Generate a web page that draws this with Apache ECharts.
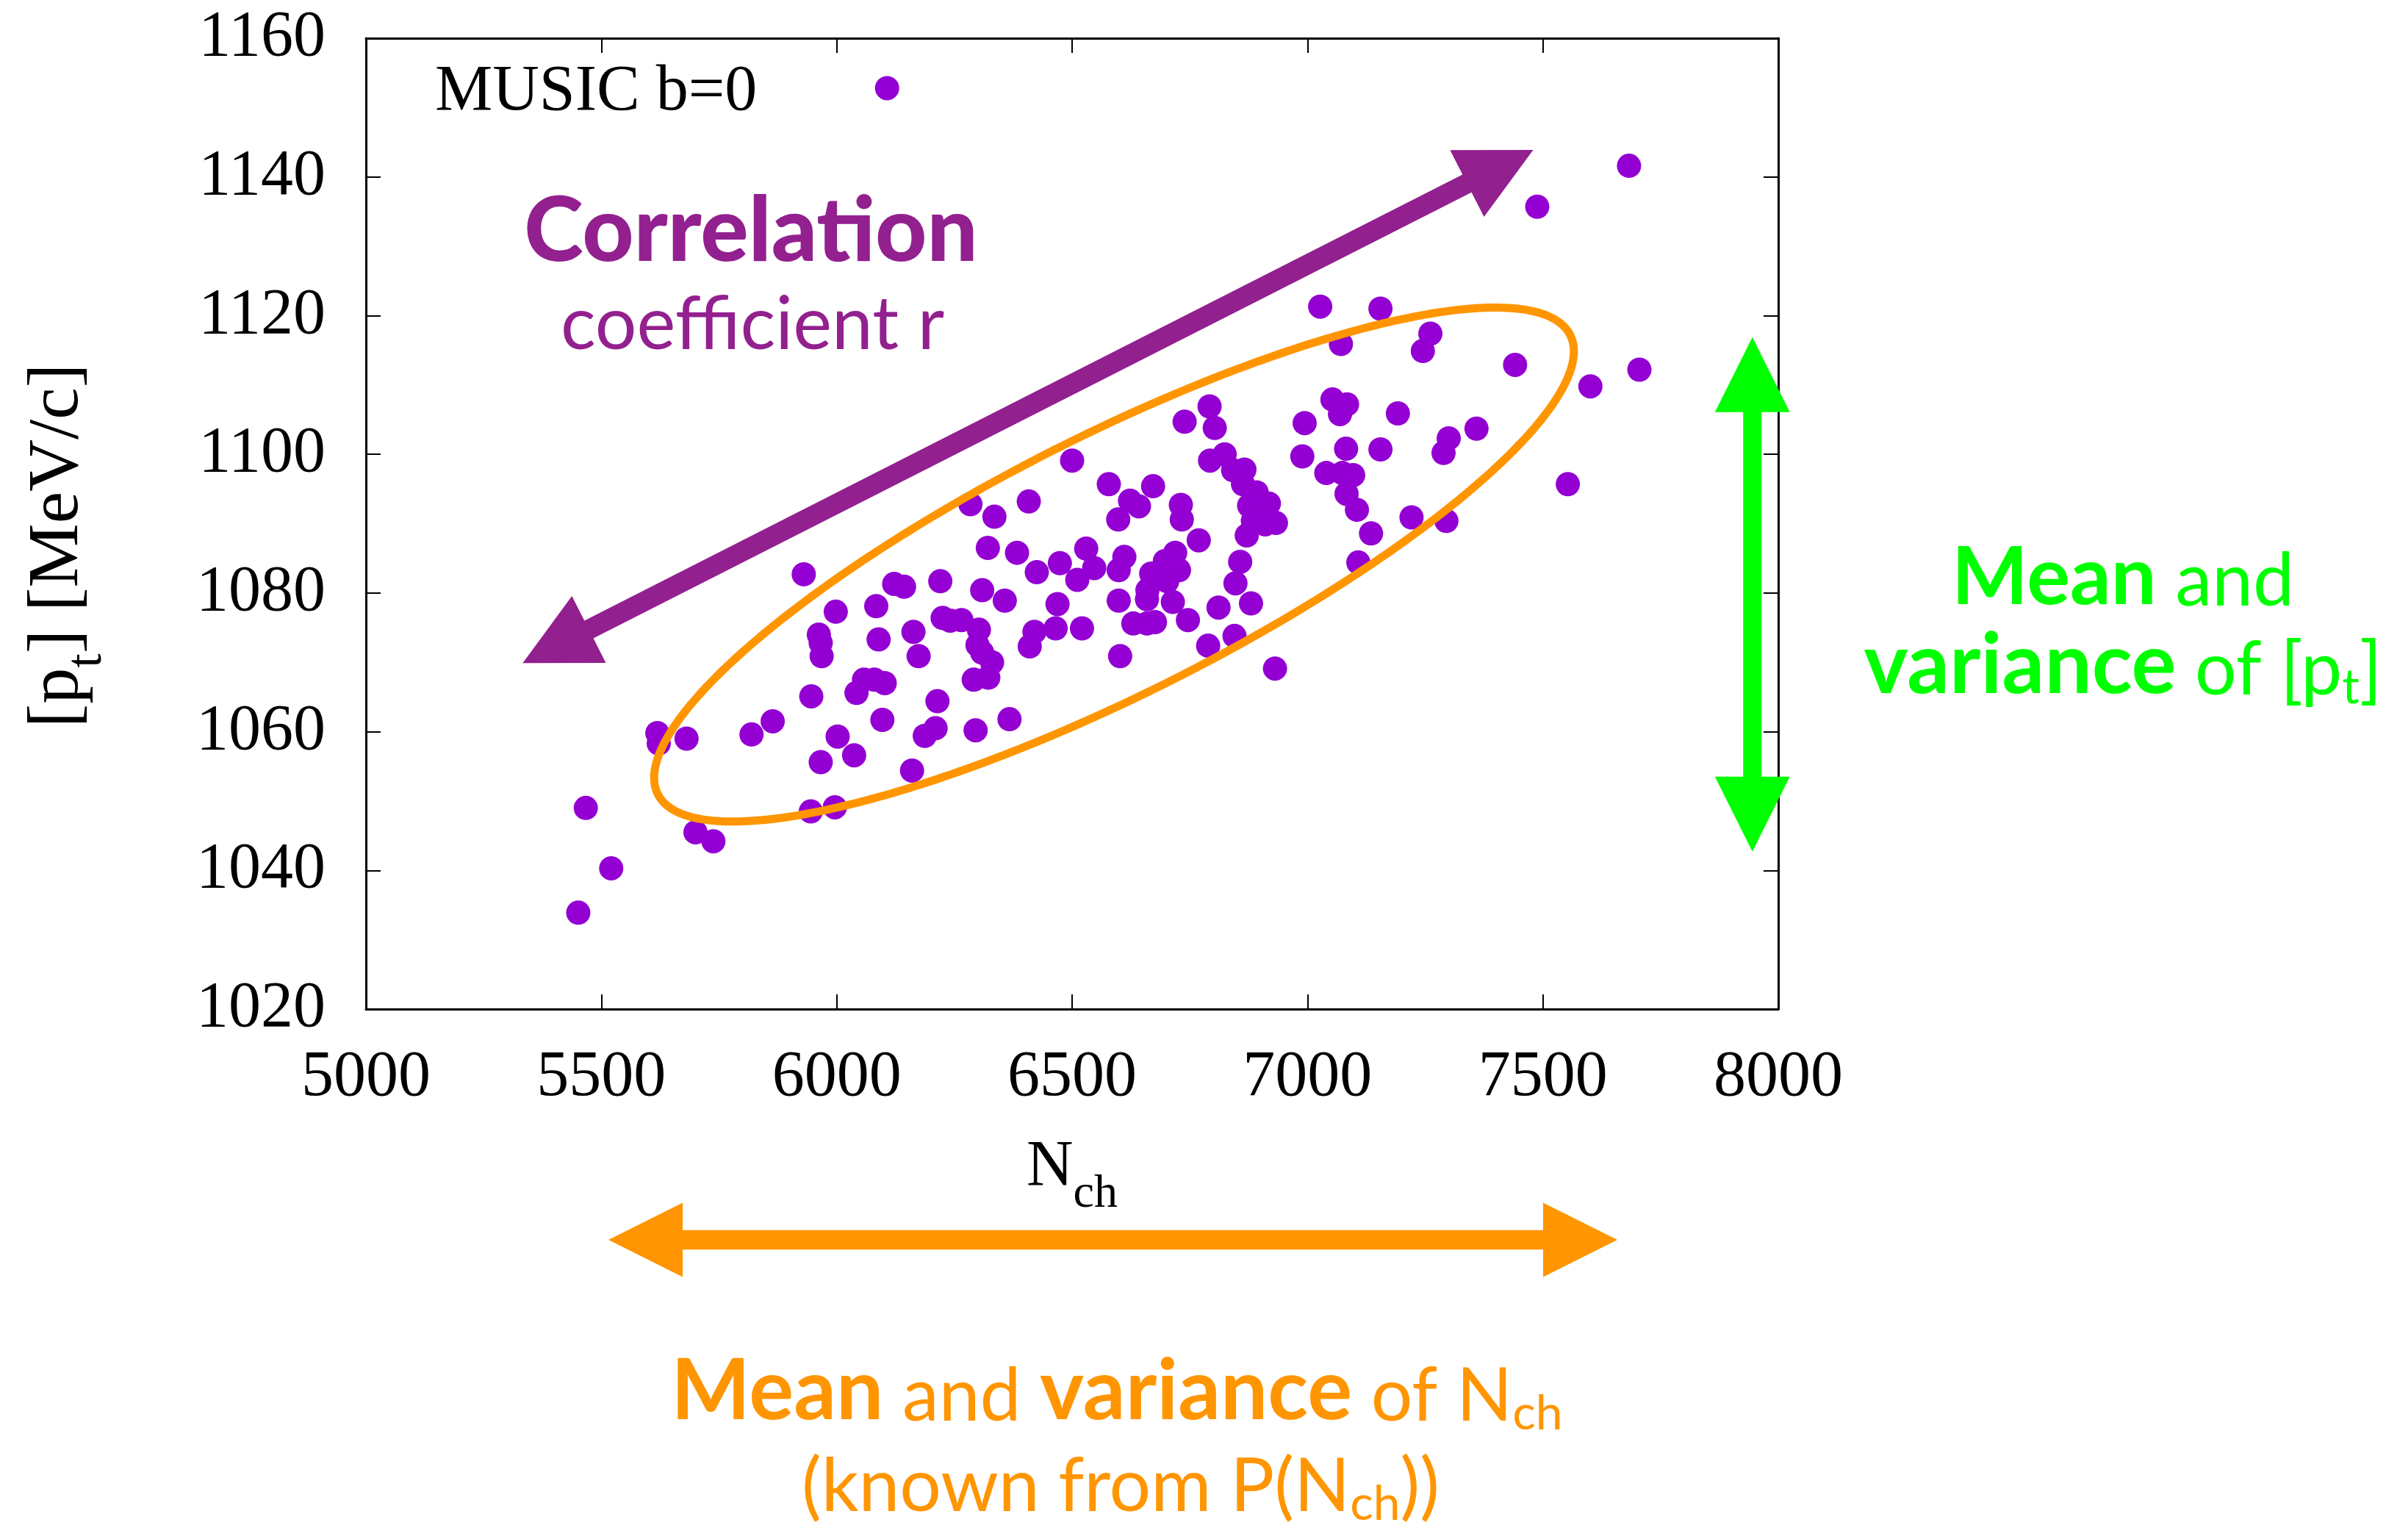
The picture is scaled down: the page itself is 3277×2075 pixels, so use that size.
<!DOCTYPE html>
<html>
<head>
<meta charset="utf-8">
<title>MUSIC b=0 — [pt] vs Nch</title>
<script src="https://cdn.jsdelivr.net/npm/echarts@6/dist/echarts.min.js"></script>
<style>
  html, body { margin: 0; padding: 0; background: #ffffff; }
  #chart { width: 3277px; height: 2075px; }
</style>
</head>
<body>
<div id="chart"></div>
<script>
// Event-by-event charged multiplicity (Nch) and mean transverse momentum [pt] in MeV/c
const nch = [
  6107, 7683, 7488, 7027, 7155, 7071, 7261, 7245, 7441, 7705,
  7601, 7053, 7084, 7069, 7192, 7300, 7359, 7289, 7082, 7155,
  7040, 7074, 7097, 7083, 7105, 7135, 7221, 7295, 7108, 7553,
  6792, 6739, 6803, 6994, 6989, 6793, 6824, 6866, 6842, 6863,
  6892, 6918, 6876, 6884, 6933, 6910, 6871, 6769, 6731, 6733,
  6672, 6578, 6623, 6642, 6598, 6500, 6408, 6284, 6335, 6321,
  6383, 6425, 6474, 6530, 6547, 6511, 6611, 6599, 6719, 6697,
  6727, 6668, 6702, 6660, 6659, 6714, 6857, 6847, 6880, 6811,
  6746, 6630, 6659, 6676, 6845, 6789, 6599, 6469, 6521, 6465,
  6420, 6410, 6309, 6357, 6265, 6302, 6299, 5930, 6122, 6143,
  6220, 5998, 6084, 6225, 6241, 5962, 5966, 6089, 6163, 5968,
  6174, 6058, 6080, 6102, 6042, 5946, 6214, 6097, 6210, 6187,
  6002, 6037, 5966, 6160, 5864, 5819, 5619, 5622, 5681, 5945,
  5996, 5700, 5738, 5521, 5467, 5451, 6291, 6322, 6330, 6309,
  6295, 6367, 6602, 6931
];
const meanPt = [
  1152.8, 1141.6, 1135.7, 1121.3, 1121.0, 1115.9, 1117.4, 1114.9, 1112.9, 1112.2,
  1109.8, 1107.9, 1107.2, 1105.8, 1105.9, 1102.3, 1103.7, 1100.2, 1100.8, 1100.7,
  1097.3, 1097.3, 1097.0, 1094.3, 1092.0, 1088.6, 1090.9, 1090.4, 1084.4, 1095.7,
  1106.9, 1104.7, 1103.8, 1104.5, 1099.7, 1099.1, 1100.0, 1097.8, 1097.7, 1095.7,
  1094.5, 1092.9, 1092.6, 1090.4, 1090.1, 1089.9, 1088.3, 1087.6, 1092.7, 1090.6,
  1095.4, 1095.7, 1093.3, 1092.5, 1090.6, 1099.1, 1093.2, 1092.8, 1091.0, 1086.5,
  1085.8, 1083.0, 1084.3, 1086.4, 1083.6, 1081.9, 1085.2, 1083.3, 1085.8, 1084.6,
  1083.3, 1082.8, 1081.7, 1080.4, 1079.1, 1078.7, 1084.5, 1081.4, 1078.5, 1077.9,
  1076.1, 1075.6, 1075.6, 1075.8, 1073.8, 1072.4, 1078.9, 1078.4, 1074.9, 1074.9,
  1074.4, 1072.3, 1080.4, 1078.9, 1076.1, 1074.7, 1072.5, 1082.7, 1081.3, 1080.9,
  1081.7, 1077.3, 1078.1, 1076.4, 1076.0, 1074.0, 1072.8, 1073.3, 1074.4, 1070.9,
  1070.9, 1067.5, 1067.5, 1067.0, 1065.6, 1065.1, 1064.4, 1061.7, 1060.5, 1059.4,
  1059.3, 1056.6, 1055.6, 1054.4, 1061.5, 1059.6, 1059.8, 1058.3, 1059.0, 1048.5,
  1049.1, 1045.5, 1044.2, 1040.3, 1049.0, 1033.9, 1067.5, 1067.8, 1070.0, 1071.4,
  1060.2, 1061.8, 1070.9, 1069.1
];

const xTickValues = [5000, 5500, 6000, 6500, 7000, 7500, 8000];
const xTickLabels = ['5000', '5500', '6000', '6500', '7000', '7500', '8000'];
const yTickValues = [1020, 1040, 1060, 1080, 1100, 1120, 1140, 1160];
const yTickLabels = ['1020', '1040', '1060', '1080', '1100', '1120', '1140', '1160'];

// Annotation geometry, in data units
const spreadEllipse = { cx: 6589, cy: 1084.1, ux: 969, uy: 33.1, vx: 123.4, vy: -16.66 };
const correlationArrow = [5333, 1069.9, 7479.5, 1143.9];
const ptArrow = [7945, 1042.7, 7945, 1116.9];

const DOT = '#9400d3';
const PURPLE = '#93208f';
const ORANGE = '#ff9500';
const GREEN = '#00ff00';
const SERIF = "'Liberation Serif', 'Times New Roman', serif";
const SANS = "Lato, 'Open Sans', sans-serif";

// Filled arrow outline (one or two heads) from p0 to p1, in pixels
function arrowPoints(p0, p1, shaft, headLen, headW, both) {
  const dx = p1[0] - p0[0], dy = p1[1] - p0[1];
  const L = Math.hypot(dx, dy);
  const ux = dx / L, uy = dy / L, nx = -uy, ny = ux;
  const P = (s, t) => [p0[0] + ux * s + nx * t, p0[1] + uy * s + ny * t];
  const hs = shaft / 2, hw = headW / 2, s1 = L - headLen;
  const pts = [];
  if (both) pts.push(P(0, 0), P(headLen, hw), P(headLen, hs));
  else pts.push(P(0, hs));
  pts.push(P(s1, hs), P(s1, hw), P(L, 0), P(s1, -hw), P(s1, -hs));
  if (both) pts.push(P(headLen, -hs), P(headLen, -hw));
  else pts.push(P(0, -hs));
  return pts;
}

function arrowSeries(seg, color, shaft, headLen, headW) {
  return {
    type: 'custom', xAxisIndex: 0, yAxisIndex: 0, z: 4, silent: true, clip: false,
    data: [seg], encode: { x: [0, 2], y: [1, 3] },
    renderItem: (params, api) => {
      const a = api.coord([api.value(0), api.value(1)]);
      const b = api.coord([api.value(2), api.value(3)]);
      return { type: 'polygon', shape: { points: arrowPoints(a, b, shaft, headLen, headW, true) },
               style: { fill: color } };
    }
  };
}

const axisBase = {
  type: 'value',
  axisLine: { show: true, onZero: false, lineStyle: { color: '#000', width: 3 } },
  axisTick: { show: true, inside: true, length: 20, lineStyle: { color: '#000', width: 2 } },
  splitLine: { show: false }
};

function richSans(color, boldSize) {
  return {
    b: { fontFamily: SANS, fontWeight: 'bold', fontSize: boldSize, color: color, fill: color, verticalAlign: 'bottom', padding: [0, 0, 6, 0] },
    r: { fontFamily: SANS, fontWeight: 'normal', fontSize: 100, color: color, fill: color, verticalAlign: 'bottom', padding: [0, 0, 6, 0] },
    s: { fontFamily: SANS, fontWeight: 'normal', fontSize: 66, color: color, fill: color, verticalAlign: 'bottom' }
  };
}

function richText(text, x, y, color, boldSize) {
  return {
    type: 'text', x: x, y: y, z: 20, silent: true,
    style: { text: text, rich: richSans(color, boldSize), fontFamily: SANS, fontSize: 100, fill: color,
             align: 'center', verticalAlign: 'bottom' }
  };
}

const xNameRich = {
  m: { fontFamily: SERIF, fontSize: 88, color: '#000', verticalAlign: 'bottom', padding: [0, 0, 24, 0] },
  s: { fontFamily: SERIF, fontSize: 64, color: '#000', verticalAlign: 'bottom' }
};
const yNameRich = {
  m: { fontFamily: SERIF, fontSize: 98, color: '#000', verticalAlign: 'bottom', padding: [0, 0, 26, 0] },
  s: { fontFamily: SERIF, fontSize: 70, color: '#000', verticalAlign: 'bottom' }
};

const chart = echarts.init(document.getElementById('chart'), null, { renderer: 'canvas' });

chart.setOption({
  animation: false,
  backgroundColor: '#ffffff',
  grid: { left: 498, top: 52, width: 1922, height: 1321, containLabel: false, outerBoundsMode: 'none' },
  xAxis: [
    Object.assign({}, axisBase, {
      min: 5000, max: 8000, interval: 500, position: 'bottom',
      axisLabel: { margin: 50, fontSize: 88, fontFamily: SERIF, color: '#000',
                   formatter: v => xTickLabels[xTickValues.indexOf(v)] || String(v) },
      name: '{m|N}{s|ch}', nameLocation: 'middle', nameGap: 172,
      nameTextStyle: { rich: xNameRich }
    }),
    Object.assign({}, axisBase, {
      min: 5000, max: 8000, interval: 500, position: 'top', axisLabel: { show: false }
    })
  ],
  yAxis: [
    Object.assign({}, axisBase, {
      min: 1020, max: 1160, interval: 20, position: 'left',
      axisLabel: { margin: 55, fontSize: 88, fontFamily: SERIF, color: '#000',
                   formatter: v => yTickLabels[yTickValues.indexOf(v)] || String(v) },
      name: '{m|[p}{s|t}{m|] [MeV/c]}', nameLocation: 'middle', nameGap: 344, nameRotate: 90,
      nameTextStyle: { rich: yNameRich, padding: [0, 60, 0, 0] }
    }),
    Object.assign({}, axisBase, {
      min: 1020, max: 1160, interval: 20, position: 'right', axisLabel: { show: false }
    })
  ],
  series: [
    {
      name: 'MUSIC b=0', type: 'scatter', xAxisIndex: 0, yAxisIndex: 0, z: 2, silent: true,
      symbol: 'circle', symbolSize: 33,
      itemStyle: { color: DOT, opacity: 1 },
      data: nch.map((x, i) => [x, meanPt[i]])
    },
    {
      type: 'custom', xAxisIndex: 0, yAxisIndex: 0, z: 3, silent: true, clip: false,
      data: [[spreadEllipse.cx, spreadEllipse.cy]],
      renderItem: (params, api) => {
        const cx = api.value(0), cy = api.value(1), E = spreadEllipse;
        const pts = [];
        for (let k = 0; k < 360; k++) {
          const t = 2 * Math.PI * k / 360;
          pts.push(api.coord([cx + E.ux * Math.cos(t) + E.vx * Math.sin(t),
                              cy + E.uy * Math.cos(t) + E.vy * Math.sin(t)]));
        }
        return { type: 'polygon', shape: { points: pts },
                 style: { fill: 'none', stroke: ORANGE, lineWidth: 11 } };
      }
    },
    arrowSeries(correlationArrow, PURPLE, 27, 101, 102),
    arrowSeries(ptArrow, GREEN, 25, 102, 102)
  ],
  graphic: [
    { type: 'text', x: 592, y: 126, z: 20, silent: true,
      style: { text: 'MUSIC b=0', fontFamily: SERIF, fontSize: 88, fill: '#000', align: 'left', verticalAlign: 'middle' } },
    { type: 'text', x: 1022, y: 316, z: 20, silent: true,
      style: { text: 'Correlation', fontFamily: SANS, fontWeight: 900, fontSize: 122, fill: PURPLE, align: 'center', verticalAlign: 'middle' } },
    { type: 'text', x: 1024, y: 443, z: 20, silent: true,
      style: { text: 'coefficient r', fontFamily: SANS, fontSize: 100, fill: PURPLE, align: 'center', verticalAlign: 'middle' } },
    richText('{b|Mean}{r| and}', 2889, 848, GREEN, 110),
    richText('{b|variance}{r| of [p}{s|t}{r|]}', 2889, 969, GREEN, 114),
    richText('{b|Mean}{r| and }{b|variance}{r| of N}{s|ch}', 1520, 1957, ORANGE, 114),
    richText('{r|(known from P(N}{s|ch}{r|))}', 1525, 2080, ORANGE, 114),
    { type: 'polygon', z: 20, silent: true,
      shape: { points: arrowPoints([828, 1687], [2201, 1687], 26.6, 101, 101, true) },
      style: { fill: ORANGE } }
  ]
});
</script>
</body>
</html>
